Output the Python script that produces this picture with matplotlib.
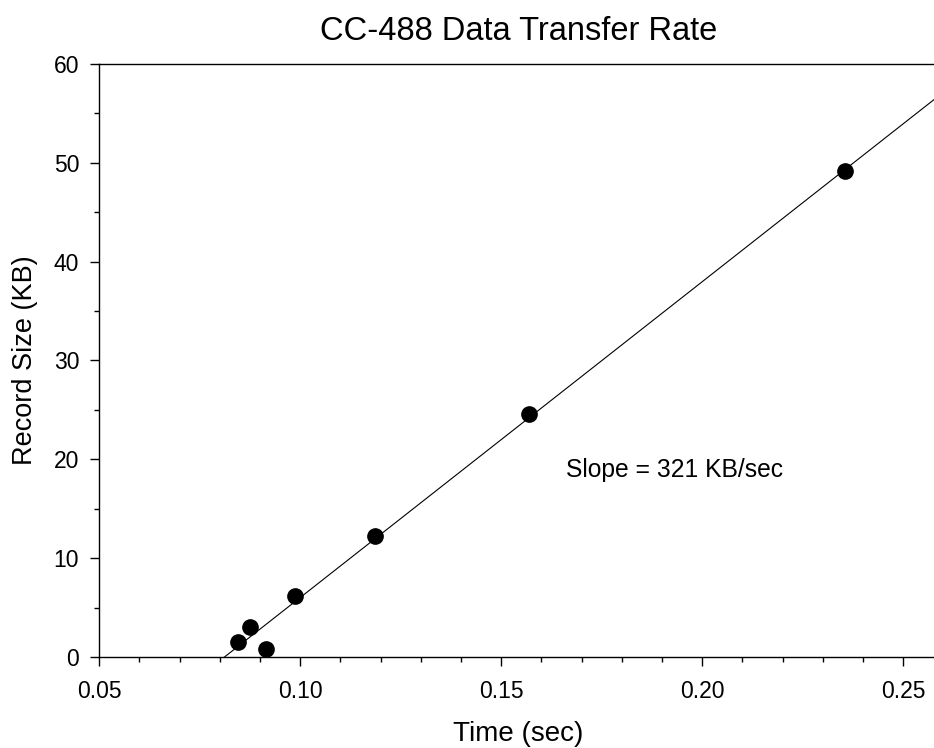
import numpy as np
import matplotlib
matplotlib.use('Agg')
import matplotlib.pyplot as plt
from matplotlib.ticker import MultipleLocator, FormatStrFormatter

plt.rcParams['font.family'] = ['Liberation Sans', 'DejaVu Sans']

# transfer times (sec) and record sizes (KB)
time_sec = [0.0914, 0.0844, 0.0876, 0.0988, 0.1186, 0.1570, 0.2356]
size_kb = [0.768, 1.536, 3.072, 6.144, 12.288, 24.576, 49.152]

title = 'CC-488 Data Transfer Rate'
slope_text = 'Slope = 321 KB/sec'

fig = plt.figure(figsize=(9.34, 7.48), dpi=100)
ax = fig.add_axes([0.1063, 0.1217, 0.8969, 0.7928])

# least squares line through the points
m, b = np.polyfit(time_sec, size_kb, 1)
xfit = np.array([0.05, 0.2584])
ax.plot(xfit, m * xfit + b, color='black', linewidth=0.8)

ax.plot(time_sec, size_kb, 'o', color='black', markersize=11, zorder=3)

ax.set_xlim(0.05, 0.2584)
ax.set_ylim(0, 60)

ax.xaxis.set_major_locator(MultipleLocator(0.05))
ax.xaxis.set_minor_locator(MultipleLocator(0.01))
ax.xaxis.set_major_formatter(FormatStrFormatter('%.2f'))
ax.yaxis.set_major_locator(MultipleLocator(10))
ax.yaxis.set_minor_locator(MultipleLocator(5))

ax.spines['right'].set_visible(False)
for s in ['left', 'bottom', 'top']:
    ax.spines[s].set_linewidth(1.0)

ax.tick_params(which='both', direction='out', top=False, right=False, width=1.0)
ax.tick_params(which='major', length=6.5, labelsize=16.5)
ax.tick_params(axis='x', which='major', pad=10)
ax.tick_params(axis='y', which='major', pad=8)
ax.tick_params(which='minor', length=3.3)

ax.set_title(title, fontsize=23.5, pad=17)
ax.set_xlabel('Time (sec)', fontsize=20, labelpad=13)
ax.set_ylabel('Record Size (KB)', fontsize=19.5, labelpad=11)

ax.text(0.1661, 18.2, slope_text, fontsize=17.7, va='baseline', ha='left')

fig.savefig('out.png', dpi=100)
